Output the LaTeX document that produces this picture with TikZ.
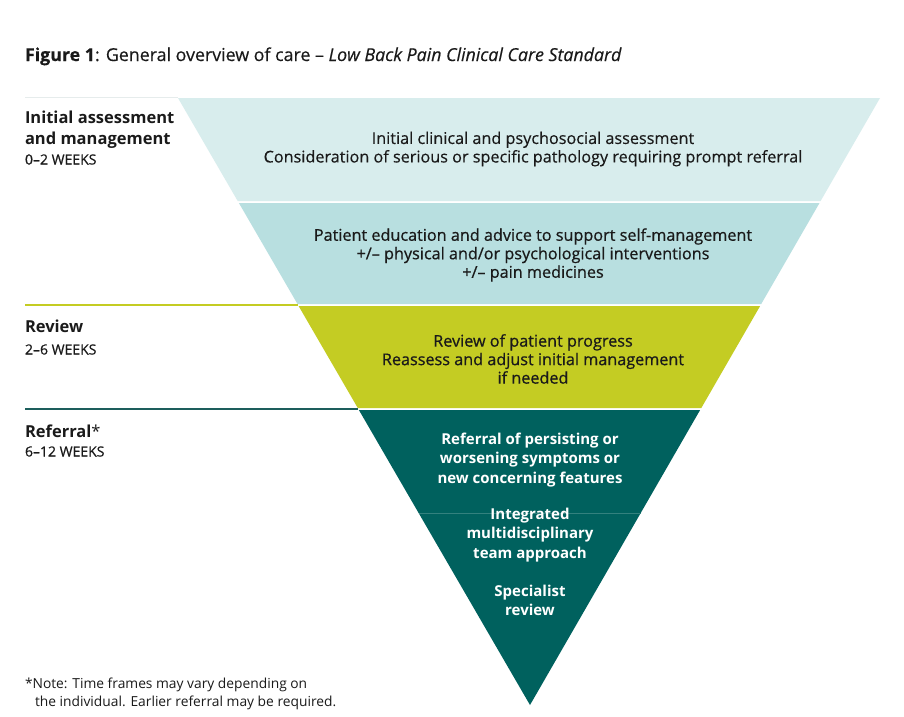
\documentclass[tikz,border=0pt]{standalone}
\usepackage{fontspec}
\setmainfont{Open Sans}
\newfontfamily\semib[FakeBold=0.7]{Open Sans}
\newfontfamily\lightb[FakeBold=0.35]{Open Sans}
\definecolor{bandA}{HTML}{D8EDED}
\definecolor{bandB}{HTML}{B8DFE0}
\definecolor{bandG}{HTML}{C4CC23}
\definecolor{bandT}{HTML}{00615E}
\definecolor{lineT}{HTML}{1D5E5C}
\definecolor{txt}{HTML}{1A1A1A}
\definecolor{faint}{HTML}{E6ECEC}
\begin{document}
\begin{tikzpicture}[x=1pt,y=-1pt,
  every node/.style={inner sep=0pt,outer sep=0pt,text=txt},
  ctext/.style={align=center,font=\semib\fontsize{16.2}{18.5}\selectfont},
  wtext/.style={align=center,text=white,font=\bfseries\fontsize{15}{19.2}\selectfont},
  head/.style={anchor=base west,font=\bfseries\fontsize{16.5}{20}\selectfont},
  weeks/.style={anchor=base west,font=\semib\fontsize{14}{14}\selectfont},
  note/.style={anchor=base west,font=\fontsize{13.8}{16}\selectfont}]
\useasboundingbox (0,0) rectangle (904,716);
\fill[white] (0,0) rectangle (904,716);
% bands
\fill[bandA] (178,98) -- (880,98) -- (820.6,201) -- (237.7,201) -- cycle;
\fill[bandB] (238.9,203) -- (819.5,203) -- (761.2,304) -- (297.5,304) -- cycle;
\fill[bandG] (298.6,306) -- (760.1,306) -- (701.3,408) -- (357.8,408) -- cycle;
\fill[bandT] (358.9,410) -- (700.1,410) -- (530,705) -- cycle;
\draw[color=bandT!80!white,line width=0.6pt] (418.7,513) -- (640.7,513);
% left rules
\draw[faint,line width=1pt] (25,97.5) -- (178,97.5);
\draw[bandG,line width=2pt] (25,305) -- (298,305);
\draw[lineT,line width=2pt] (25,409) -- (358,409);
% title
\node[anchor=base west,font=\lightb\fontsize{17.8}{20}\selectfont] (title) at (25,61)
  {\textbf{Figure 1}: General overview of care – \textit{Low Back Pain Clinical Care Standard}};
% left labels
\node[head] (h1a) at (25,123.5) {Initial assessment};
\node[head] (h1b) at (25,144) {and management};
\node[weeks] (w1) at (25,164.5) {0–2 WEEKS};
\node[head] (h2) at (25,332) {Review};
\node[weeks] (w2) at (25,354.5) {2–6 WEEKS};
\node[head] (h3) at (25,437) {Referral\textmd{*}};
\node[weeks] (w3) at (25,456.5) {6–12 WEEKS};
% centre texts
\node[ctext,font=\lightb\fontsize{16.2}{18.5}\selectfont] (t1) at (533,149)
  {Initial clinical and psychosocial assessment\\Consideration of serious or specific pathology requiring prompt referral};
\node[ctext] (t2) at (533,255)
  {Patient education and advice to support self-management\\+/– physical and/or psychological interventions\\+/– pain medicines};
\node[ctext] (t3) at (533,359)
  {Review of patient progress\\Reassess and adjust initial management\\if needed};
\node[wtext] (t4) at (530,460)
  {Referral of persisting or\\worsening symptoms or\\new concerning features};
\node[wtext] (t5) at (530,535)
  {Integrated\\multidisciplinary\\team approach};
\node[wtext] (t6) at (530,600)
  {Specialist\\review};
% footnote
\node[note] (n1) at (25,688) {*Note: Time frames may vary depending on};
\node[note] (n2) at (35,706) {the individual. Earlier referral may be required.};
\end{tikzpicture}
\end{document}
